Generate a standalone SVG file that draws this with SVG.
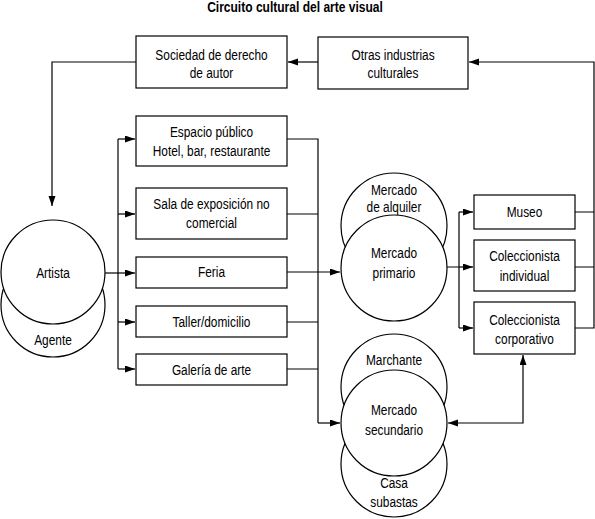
<svg xmlns="http://www.w3.org/2000/svg" width="595" height="519" viewBox="0 0 595 519">
<defs>
<marker id="ah" markerUnits="userSpaceOnUse" markerWidth="11" markerHeight="8" refX="10" refY="3.5" orient="auto-start-reverse">
<path d="M0,0 L10,3.5 L0,7 z" fill="#000"/>
</marker>
<style>
.n rect, .n circle { fill: #fff; stroke: #000; stroke-width: 1.2; }
.n text, .t { font-family: "Liberation Sans", Arial, sans-serif; font-size: 14.5px; text-anchor: middle; fill: #000; }
.t { font-weight: bold; font-size: 14.5px; }
.c path { fill: none; stroke: #000; stroke-width: 1.2; }
.a { marker-end: url(#ah); }
</style>
</defs>
<rect width="595" height="519" fill="#fff"/>
<text class="t" transform="matrix(0.83,0,0,1,295,12)">Circuito cultural del arte visual</text>

<g class="c">
<path class="a" d="M318,62 H288"/>
<path class="a" d="M136,62 H52 V206"/>
<path d="M575,212 H594 M575,267 H594"/>
<path class="a" d="M575,328 H594 V62 H469"/>
<path class="a" d="M105,273 H135"/>
<path d="M118,139 V369"/>
<path class="a" d="M118,139 H135"/>
<path class="a" d="M118,214 H135"/>
<path class="a" d="M118,322 H135"/>
<path class="a" d="M118,369 H135"/>
<path d="M287,139 H318 V423 M287,214 H318 M287,322 H318 M287,369 H318"/>
<path class="a" d="M287,272 H340"/>
<path class="a" d="M318,423 H340"/>
<path d="M447,267 H459 M459,212 V328"/>
<path class="a" d="M459,212 H473"/>
<path class="a" d="M459,267 H473"/>
<path class="a" d="M459,328 H473"/>
<path class="a" d="M448,423 H523 V355" style="marker-start:url(#ah)"/>
</g>

<g id="sociedad" class="n"><rect x="136" y="36" width="151" height="52"/><text transform="matrix(0.82,0,0,1,211.5,60)">Sociedad de derecho</text><text transform="matrix(0.82,0,0,1,211.5,78)">de autor</text></g>
<g id="otras" class="n"><rect x="318" y="37" width="150" height="52"/><text transform="matrix(0.82,0,0,1,393,60)">Otras industrias</text><text transform="matrix(0.82,0,0,1,393,78)">culturales</text></g>
<g id="espacio" class="n"><rect x="136" y="116" width="151" height="50"/><text transform="matrix(0.82,0,0,1,211.5,137)">Espacio público</text><text transform="matrix(0.82,0,0,1,211.5,156)">Hotel, bar, restaurante</text></g>
<g id="sala" class="n"><rect x="136" y="188" width="151" height="51"/><text transform="matrix(0.82,0,0,1,211.5,209)">Sala de exposición no</text><text transform="matrix(0.82,0,0,1,211.5,228)">comercial</text></g>
<g id="feria" class="n"><rect x="136" y="257" width="151" height="31"/><text transform="matrix(0.82,0,0,1,211.5,277)">Feria</text></g>
<g id="taller" class="n"><rect x="136" y="306" width="151" height="31"/><text transform="matrix(0.82,0,0,1,211.5,327)">Taller/domicilio</text></g>
<g id="galeria" class="n"><rect x="136" y="354" width="151" height="31"/><text transform="matrix(0.82,0,0,1,211.5,375)">Galería de arte</text></g>
<g id="museo" class="n"><rect x="474" y="195" width="101" height="34"/><text transform="matrix(0.82,0,0,1,524.5,217)">Museo</text></g>
<g id="individual" class="n"><rect x="474" y="240" width="101" height="51"/><text transform="matrix(0.82,0,0,1,524.5,261)">Coleccionista</text><text transform="matrix(0.82,0,0,1,524.5,281)">individual</text></g>
<g id="corporativo" class="n"><rect x="474" y="302" width="101" height="52"/><text transform="matrix(0.82,0,0,1,524.5,325)">Coleccionista</text><text transform="matrix(0.82,0,0,1,524.5,344)">corporativo</text></g>

<g id="agente" class="n"><circle cx="53" cy="305" r="52"/><text transform="matrix(0.82,0,0,1,53,345)">Agente</text></g>
<g id="artista" class="n"><circle cx="53" cy="272" r="52"/><text transform="matrix(0.82,0,0,1,53,278)">Artista</text></g>
<g id="alquiler" class="n"><circle cx="394" cy="226" r="53"/><text transform="matrix(0.82,0,0,1,394,195)">Mercado</text><text transform="matrix(0.82,0,0,1,394,212)">de alquiler</text></g>
<g id="primario" class="n"><circle cx="394" cy="268" r="53"/><text transform="matrix(0.82,0,0,1,394,258)">Mercado</text><text transform="matrix(0.82,0,0,1,394,278)">primario</text></g>
<g id="marchante" class="n"><circle cx="394" cy="387" r="53"/><text transform="matrix(0.82,0,0,1,394,365)">Marchante</text></g>
<g id="subastas" class="n"><circle cx="394" cy="464" r="53"/><text transform="matrix(0.82,0,0,1,394,488)">Casa</text><text transform="matrix(0.82,0,0,1,394,507)">subastas</text></g>
<g id="secundario" class="n"><circle cx="394" cy="423" r="53"/><text transform="matrix(0.82,0,0,1,394,415)">Mercado</text><text transform="matrix(0.82,0,0,1,394,435)">secundario</text></g>
</svg>
